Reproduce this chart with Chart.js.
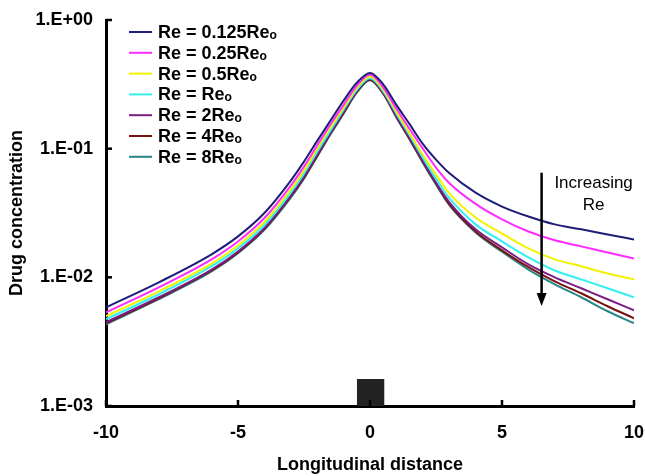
<!DOCTYPE html>
<html>
<head>
<meta charset="utf-8">
<script src="https://cdn.jsdelivr.net/npm/chart.js@4.4.1/dist/chart.umd.min.js"></script>
<style>
  html, body { margin: 0; padding: 0; background: #fff; }
</style>
</head>
<body>
<canvas id="chart" width="645" height="476"></canvas>
<script>
const distance = [-10, -8, -6, -5, -4, -3, -2.5, -2, -1.5, -1, -0.5, 0, 0.5, 1, 1.5, 2, 2.5, 3, 4, 5, 6, 7, 8, 9, 10];

const re0125 = [0.00585, 0.00915, 0.0151, 0.0208, 0.0316, 0.0565, 0.0793, 0.115, 0.165, 0.236, 0.325, 0.388, 0.316, 0.219, 0.155, 0.109, 0.0822, 0.0646, 0.0455, 0.0355, 0.0297, 0.0258, 0.0236, 0.0215, 0.0197];
const re025 = [0.00535, 0.00837, 0.0138, 0.0190, 0.0289, 0.0517, 0.0725, 0.106, 0.154, 0.219, 0.308, 0.375, 0.300, 0.204, 0.142, 0.100, 0.0713, 0.0541, 0.0372, 0.0282, 0.0227, 0.0194, 0.0174, 0.0156, 0.0140];
const re05 = [0.00499, 0.00779, 0.0128, 0.0177, 0.0269, 0.0481, 0.0675, 0.100, 0.146, 0.208, 0.297, 0.362, 0.289, 0.194, 0.132, 0.0898, 0.0629, 0.0452, 0.0292, 0.0219, 0.0168, 0.0138, 0.0122, 0.0107, 0.00965];
const re1 = [0.00473, 0.00739, 0.0122, 0.0168, 0.0255, 0.0456, 0.0640, 0.0948, 0.138, 0.201, 0.287, 0.352, 0.279, 0.187, 0.127, 0.0851, 0.0585, 0.0414, 0.0258, 0.0190, 0.0143, 0.0113, 0.00965, 0.00822, 0.00699];
const re2 = [0.00448, 0.00700, 0.0115, 0.0159, 0.0242, 0.0432, 0.0607, 0.0898, 0.133, 0.194, 0.282, 0.349, 0.274, 0.180, 0.121, 0.0807, 0.0545, 0.0385, 0.0236, 0.0171, 0.0126, 0.0100, 0.00822, 0.00675, 0.00555];
const re4 = [0.00440, 0.00688, 0.0113, 0.0156, 0.0238, 0.0425, 0.0596, 0.0882, 0.131, 0.190, 0.277, 0.343, 0.269, 0.177, 0.119, 0.0793, 0.0536, 0.0371, 0.0227, 0.0162, 0.0120, 0.00931, 0.00752, 0.00596, 0.00481];
const re8 = [0.00432, 0.00676, 0.0111, 0.0154, 0.0234, 0.0417, 0.0585, 0.0867, 0.129, 0.187, 0.272, 0.340, 0.267, 0.175, 0.118, 0.0778, 0.0526, 0.0365, 0.0223, 0.0158, 0.0115, 0.00883, 0.00700, 0.00545, 0.00440];

const seriesLabels = ['Re = 0.125Reₒ', 'Re = 0.25Reₒ', 'Re = 0.5Reₒ', 'Re = Reₒ', 'Re = 2Reₒ', 'Re = 4Reₒ', 'Re = 8Reₒ'];
const seriesValues = [re0125, re025, re05, re1, re2, re4, re8];
const seriesColors = ['#1e1e78', '#ff2cff', '#f2f200', '#30f0f0', '#7a1e86', '#7a1212', '#2a8686'];

const yTicks = [0.001, 0.01, 0.1, 1];
const yTickLabels = ['1.E-03', '1.E-02', '1.E-01', '1.E+00'];
const xTicks = [-10, -5, 0, 5, 10];

// dark block on the axis around x = 0
const blockX = [-0.5, 0.55];
const blockTop = [0.00162, 0.00162];

// "Increasing Re" arrow
const arrowX = 6.5;
const arrowFrom = 0.065;
const arrowTo = 0.006;

const FONT = "'Liberation Sans', Arial, sans-serif";

const datasets = seriesValues.map((vals, i) => ({
    label: seriesLabels[i],
    data: vals.map((v, j) => ({ x: distance[j], y: v })),
    borderColor: seriesColors[i],
    backgroundColor: seriesColors[i],
    borderWidth: 2,
    pointRadius: 0,
    cubicInterpolationMode: 'monotone',
    fill: false,
}));

datasets.push({
    label: 'block',
    data: blockX.map((x, j) => ({ x: x, y: blockTop[j] })),
    borderColor: '#222222',
    backgroundColor: '#222222',
    borderWidth: 0,
    pointRadius: 0,
    tension: 0,
    fill: 'start',
});

const innerTicks = {
    id: 'innerTicks',
    afterDraw(chart) {
        const { ctx, chartArea, scales } = chart;
        ctx.save();
        ctx.strokeStyle = '#000';
        ctx.lineWidth = 2.5;
        xTicks.forEach(v => {
            const px = scales.x.getPixelForValue(v);
            ctx.beginPath();
            ctx.moveTo(px, chartArea.bottom);
            ctx.lineTo(px, chartArea.bottom - 6);
            ctx.stroke();
        });
        yTicks.forEach(v => {
            const py = scales.y.getPixelForValue(v);
            ctx.beginPath();
            ctx.moveTo(chartArea.left, py);
            ctx.lineTo(chartArea.left + 6, py);
            ctx.stroke();
        });
        ctx.restore();
    }
};

const seriesLegend = {
    id: 'seriesLegend',
    afterDraw(chart) {
        const ctx = chart.ctx;
        ctx.save();
        ctx.font = 'bold 18px ' + FONT;
        ctx.textBaseline = 'middle';
        ctx.textAlign = 'left';
        chart.data.datasets.forEach((ds, i) => {
            if (ds.label === 'block') return;
            const y = 32 + i * 20.8;
            ctx.strokeStyle = ds.borderColor;
            ctx.lineWidth = 2;
            ctx.beginPath();
            ctx.moveTo(129, y);
            ctx.lineTo(152, y);
            ctx.stroke();
            ctx.fillStyle = '#000';
            ctx.fillText(ds.label, 158, y + 1);
        });
        ctx.restore();
    }
};

const arrowNote = {
    id: 'arrowNote',
    afterDraw(chart) {
        const { ctx, scales } = chart;
        const x = scales.x.getPixelForValue(arrowX);
        const y0 = scales.y.getPixelForValue(arrowFrom);
        const y1 = scales.y.getPixelForValue(arrowTo);
        ctx.save();
        ctx.strokeStyle = '#000';
        ctx.fillStyle = '#000';
        ctx.lineWidth = 2.5;
        ctx.beginPath();
        ctx.moveTo(x, y0);
        ctx.lineTo(x, y1 - 12);
        ctx.stroke();
        ctx.beginPath();
        ctx.moveTo(x - 5, y1 - 13);
        ctx.lineTo(x + 5, y1 - 13);
        ctx.lineTo(x, y1);
        ctx.closePath();
        ctx.fill();
        ctx.font = '17px ' + FONT;
        ctx.textAlign = 'center';
        ctx.textBaseline = 'middle';
        ctx.fillText('Increasing', x + 52, y0 + 11);
        ctx.fillText('Re', x + 52, y0 + 33);
        ctx.restore();
    }
};

new Chart(document.getElementById('chart'), {
    type: 'line',
    data: { datasets: datasets },
    options: {
        responsive: false,
        animation: false,
        layout: { padding: { top: 20, right: 11, left: 0, bottom: 0 } },
        plugins: {
            legend: { display: false },
            tooltip: { enabled: false },
        },
        scales: {
            x: {
                type: 'linear',
                min: -10,
                max: 10,
                afterBuildTicks: (scale) => { scale.ticks = xTicks.map(v => ({ value: v })); },
                grid: { display: true, drawOnChartArea: false, drawTicks: false },
                border: { display: true, color: '#000', width: 3 },
                ticks: {
                    color: '#000',
                    padding: 16,
                    font: { family: FONT, size: 18, weight: 'bold' },
                },
                title: {
                    display: true,
                    text: 'Longitudinal distance',
                    color: '#000',
                    font: { family: FONT, size: 18, weight: 'bold' },
                    padding: { top: 0, bottom: 0 },
                },
                afterFit: (scale) => {
                    scale.height = 70;
                    scale.paddingLeft = 0;
                    scale.paddingRight = 0;
                },
            },
            y: {
                type: 'logarithmic',
                min: 0.001,
                max: 1,
                afterBuildTicks: (scale) => { scale.ticks = yTicks.map(v => ({ value: v })); },
                grid: { display: true, drawOnChartArea: false, drawTicks: false },
                border: { display: true, color: '#000', width: 3 },
                ticks: {
                    color: '#000',
                    padding: 13,
                    font: { family: FONT, size: 18, weight: 'bold' },
                    callback: (value, index) => yTickLabels[index],
                },
                title: {
                    display: true,
                    text: 'Drug concentration',
                    color: '#000',
                    font: { family: FONT, size: 18, weight: 'bold' },
                    padding: { top: 6, bottom: 0 },
                },
                afterFit: (scale) => {
                    scale.width = 106;
                    scale.paddingTop = 0;
                    scale.paddingBottom = 0;
                },
            },
        },
    },
    plugins: [innerTicks, seriesLegend, arrowNote],
});
</script>
</body>
</html>
